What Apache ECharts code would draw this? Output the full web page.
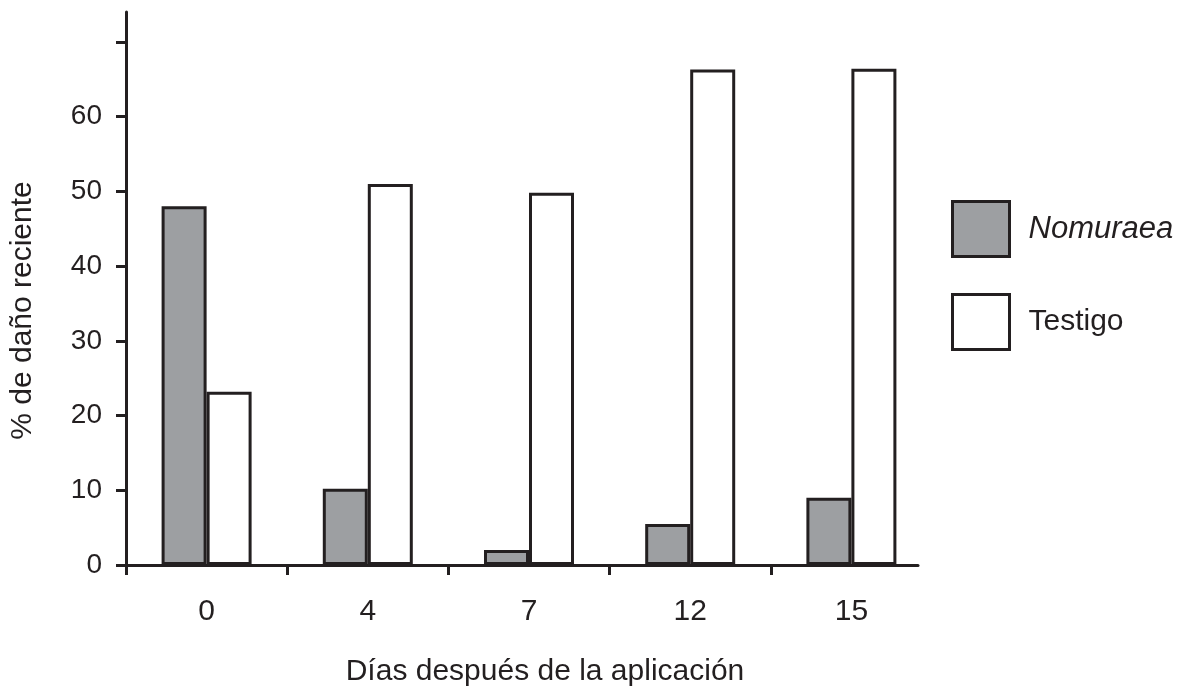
<!DOCTYPE html>
<html>
<head>
<meta charset="utf-8">
<script src="https://cdn.jsdelivr.net/npm/echarts@6/dist/echarts.min.js"></script>
<style>
html,body{margin:0;padding:0;background:#fff;}
#chart{width:1189px;height:688px;}
</style>
</head>
<body>
<div id="chart"></div>
<script>
const categories = ['0', '4', '7', '12', '15'];
const nomuraea = [48, 10.2, 2, 5.5, 9];
const testigo = [23.2, 51, 49.8, 66.3, 66.4];
const yTicks = [0, 10, 20, 30, 40, 50, 60, 70];
const yLabels = [0, 10, 20, 30, 40, 50, 60];
const xTickBoundaries = [0, 1, 2, 3, 4];

const ink = '#231f20';
const font = 'Liberation Sans, Arial, sans-serif';
const chart = echarts.init(document.getElementById('chart'));
chart.setOption({
  animation: false,
  backgroundColor: '#ffffff',
  textStyle: { fontFamily: font, color: ink },
  grid: [
    { left: 126, right: 257, top: 12, bottom: 123, outerBoundsMode: 'none', containLabel: false },
    { left: 126, right: 271, top: 12, bottom: 123, outerBoundsMode: 'none', containLabel: false }
  ],
  legend: {
    orient: 'vertical',
    left: 946,
    top: 195,
    itemWidth: 57,
    itemHeight: 55,
    itemGap: 35,
    icon: 'rect',
    textStyle: {
      fontFamily: font, fontSize: 30, color: ink, padding: [0, 0, 0, 14],
      rich: { i: { fontStyle: 'italic', fontSize: 31, fontFamily: font, color: ink } }
    },
    formatter: function (n) { return n === 'Nomuraea' ? '{i|Nomuraea}' : n; },
    itemStyle: { borderColor: ink, borderWidth: 3 }
  },
  xAxis: [
    {
      type: 'category',
      gridIndex: 0,
      data: categories,
      axisLine: { show: false },
      axisTick: { show: false },
      axisLabel: { fontSize: 30, color: ink, margin: 32, fontFamily: font },
      name: 'Días después de la aplicación',
      nameLocation: 'middle',
      nameGap: 92,
      nameTextStyle: { fontSize: 30, color: ink, fontFamily: font, padding: [0, 0, 0, 32] }
    },
    {
      type: 'value',
      gridIndex: 1,
      min: 0,
      max: 4.913,
      axisLine: { show: true, lineStyle: { color: ink, width: 3 } },
      axisTick: { show: true, customValues: xTickBoundaries, length: 10, lineStyle: { color: ink, width: 3 } },
      axisLabel: { show: false },
      splitLine: { show: false }
    }
  ],
  yAxis: [
    {
      type: 'value',
      gridIndex: 0,
      min: 0,
      max: 74,
      axisLine: { show: true, lineStyle: { color: ink, width: 3 } },
      axisTick: { show: true, customValues: yTicks, length: 10, lineStyle: { color: ink, width: 3 } },
      axisLabel: { customValues: yLabels, fontSize: 28, color: ink, margin: 24, fontFamily: font },
      splitLine: { show: false },
      name: '% de daño reciente',
      nameLocation: 'middle',
      nameGap: 88,
      nameRotate: 90,
      nameTextStyle: { fontSize: 30, color: ink, fontFamily: font, padding: [0, 44, 0, 0] }
    },
    { type: 'value', gridIndex: 1, min: 0, max: 74, show: false }
  ],
  series: [
    {
      name: 'Nomuraea',
      type: 'bar',
      xAxisIndex: 0, yAxisIndex: 0,
      data: nomuraea,
      barWidth: 45,
      barGap: '0%',
      itemStyle: { color: '#9d9fa2', borderColor: ink, borderWidth: 3 }
    },
    {
      name: 'Testigo',
      type: 'bar',
      xAxisIndex: 0, yAxisIndex: 0,
      data: testigo,
      barWidth: 45,
      barGap: '0%',
      itemStyle: { color: '#ffffff', borderColor: ink, borderWidth: 3 }
    }
  ]
});
</script>
</body>
</html>
